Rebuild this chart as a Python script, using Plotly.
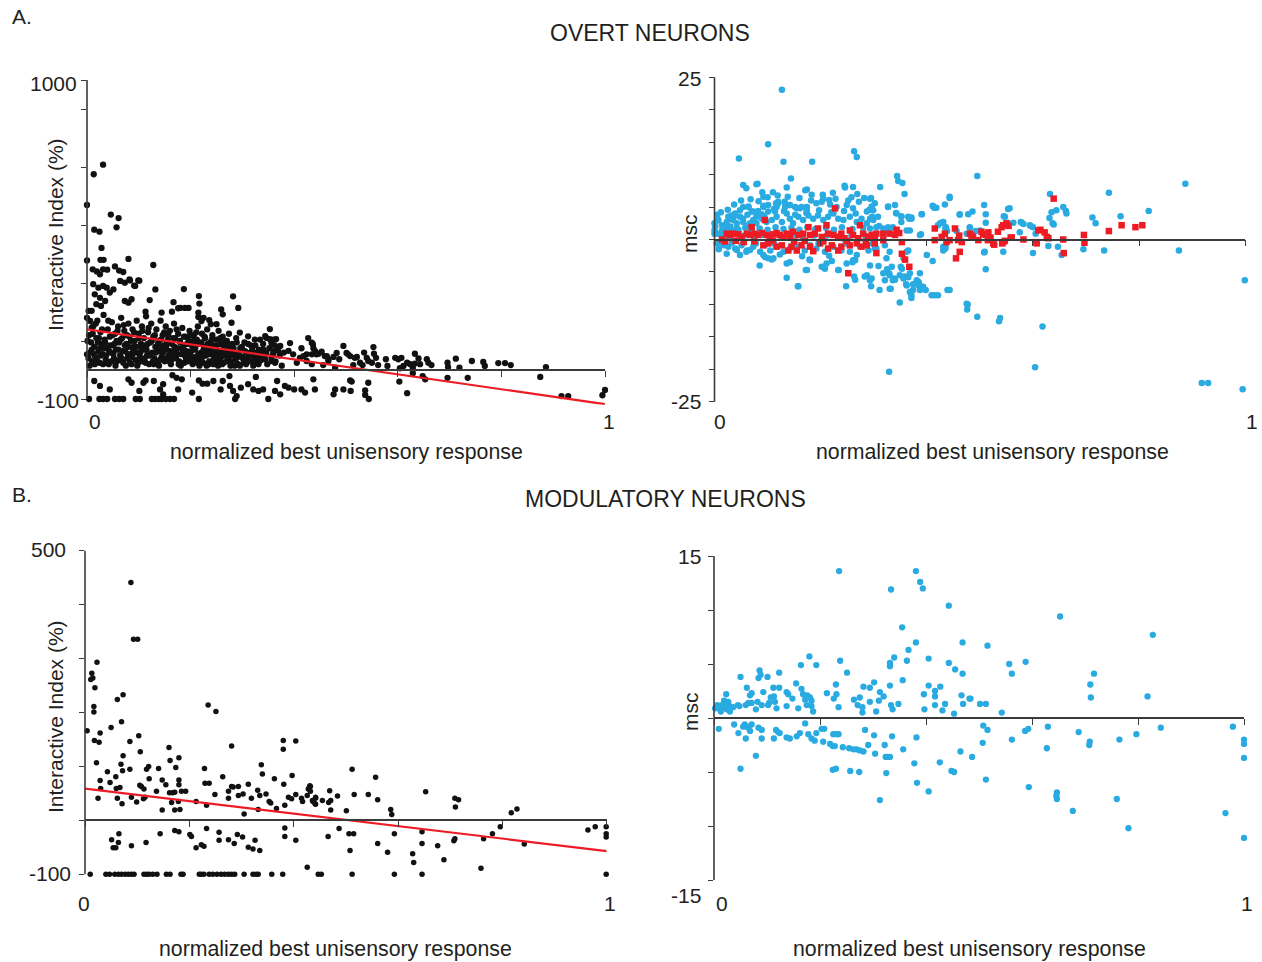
import plotly.graph_objects as go

W, H = 1262, 962
FONT = "Liberation Sans, Arial, Helvetica, sans-serif"
INK = "#231f20"
AXIS = "#3a3a3a"
DOT = "#111111"
BLUE = "#29abe2"
RED = "#ed1c24"

# ---------------- A. overt neurons: interactive index (%) ----------------
overt_index = [
    (0.013, 675), (0.031, 708), (0.000, 569), (0.046, 536), (0.061, 524), (0.057, 492),
    (0.014, 484), (0.024, 477), (0.028, 421), (0.000, 378), (0.026, 380), (0.032, 380),
    (0.080, 383), (0.011, 347), (0.019, 340), (0.039, 346), (0.054, 357), (0.062, 343),
    (0.070, 338), (0.128, 362), (0.101, 308), (0.082, 312), (0.091, 291), (0.132, 278),
    (0.187, 279), (0.216, 255), (0.217, 229), (0.282, 254), (0.292, 214), (0.259, 209),
    (0.262, 192), (0.167, 234), (0.180, 214), (0.189, 214), (0.196, 214), (0.121, 241),
    (0.113, 201), (0.236, 172), (0.239, 158), (0.215, 183), (0.221, 169), (0.353, 141),
    (0.311, 116), (0.334, 105), (0.346, 111), (0.392, 93), (0.427, 110), (0.414, 75),
    (0.360, 105), (0.362, 85), (0.000, 180), (0.000, 54), (0.003, 204),
    (0.025, 330), (0.031, 347), (0.064, 307), (0.073, 301), (0.083, 309), (0.093, 290),
    (0.099, 309), (0.012, 296), (0.022, 284), (0.031, 290), (0.038, 284), (0.044, 267),
    (0.051, 278), (0.015, 261), (0.025, 249), (0.035, 238), (0.018, 227), (0.027, 221),
    (0.009, 204), (0.006, 169), (0.009, 146), (0.073, 238), (0.080, 232), (0.086, 244),
    (0.176, 213), (0.144, 198), (0.164, 201), (0.215, 198), (0.225, 180), (0.250, 158),
    (0.279, 163), (0.295, 129),
    # dense band close to the zero line
    (0.004, 120), (0.006, 60), (0.008, 95), (0.010, 30), (0.012, 150), (0.014, 80),
    (0.016, 45), (0.018, 110), (0.020, 170), (0.022, 65), (0.024, 25), (0.026, 130),
    (0.028, 90), (0.030, 55), (0.032, 190), (0.034, 105), (0.036, 35), (0.038, 75),
    (0.040, 140), (0.042, 20), (0.044, 115), (0.046, 60), (0.048, 165), (0.050, 85),
    (0.052, 40), (0.054, 125), (0.056, 70), (0.058, 30), (0.060, 150), (0.062, 95),
    (0.064, 50), (0.066, 180), (0.068, 110), (0.070, 25), (0.072, 135), (0.074, 65),
    (0.076, 90), (0.078, 40), (0.080, 160), (0.082, 115), (0.084, 55), (0.086, 20),
    (0.088, 140), (0.090, 80), (0.092, 100), (0.094, 35), (0.096, 170), (0.098, 60),
    (0.100, 125), (0.102, 45), (0.104, 90), (0.106, 150), (0.108, 30), (0.110, 110),
    (0.112, 70), (0.114, 185), (0.116, 50), (0.118, 130), (0.120, 20), (0.122, 95),
    (0.124, 160), (0.126, 60), (0.128, 115), (0.130, 40), (0.132, 80), (0.134, 140),
    (0.136, 25), (0.138, 100), (0.140, 65), (0.142, 170), (0.144, 45), (0.146, 120),
    (0.148, 85), (0.150, 30), (0.152, 150), (0.154, 70), (0.156, 105), (0.158, 50),
    (0.160, 135), (0.162, 20), (0.164, 90), (0.166, 60), (0.168, 160), (0.170, 110),
    (0.172, 40), (0.174, 75), (0.176, 125), (0.178, 30), (0.180, 95), (0.182, 55),
    (0.184, 145), (0.186, 80), (0.188, 25), (0.190, 115), (0.192, 65), (0.194, 40),
    (0.196, 100), (0.198, 135), (0.200, 50), (0.202, 85), (0.204, 20), (0.206, 120),
    (0.208, 70), (0.210, 45), (0.212, 105), (0.214, 150), (0.216, 35), (0.218, 90),
    (0.220, 60), (0.222, 125), (0.224, 25), (0.226, 80), (0.228, 110), (0.230, 50),
    (0.232, 140), (0.234, 70), (0.236, 30), (0.238, 95), (0.240, 55), (0.242, 120),
    (0.244, 20), (0.246, 85), (0.248, 45), (0.250, 105), (0.252, 65), (0.254, 135),
    (0.256, 35), (0.258, 90), (0.260, 60), (0.262, 115), (0.264, 25), (0.266, 80),
    (0.268, 50), (0.270, 100), (0.272, 40), (0.274, 125), (0.276, 70), (0.278, 30),
    (0.280, 90), (0.284, 55), (0.288, 110), (0.292, 20), (0.296, 75), (0.300, 45),
    (0.304, 95), (0.308, 60), (0.312, 30), (0.316, 85), (0.320, 50), (0.324, 105),
    (0.328, 25), (0.332, 70), (0.336, 40), (0.340, 90), (0.344, 55), (0.348, 20),
    (0.352, 75), (0.356, 45), (0.360, 65), (0.364, 30), (0.368, 80), (0.372, 50),
    (0.376, 15), (0.380, 60),
    (0.003, 40), (0.009, 70), (0.015, 20), (0.021, 95), (0.027, 50), (0.033, 75),
    (0.039, 30), (0.045, 85), (0.051, 55), (0.057, 100), (0.063, 35), (0.069, 65),
    (0.075, 15), (0.081, 80), (0.087, 45), (0.093, 60), (0.099, 25), (0.105, 75),
    (0.111, 40), (0.117, 90), (0.123, 55), (0.129, 20), (0.135, 70), (0.141, 35),
    (0.147, 60), (0.153, 85), (0.159, 30), (0.165, 45), (0.171, 65), (0.177, 20),
    (0.183, 75), (0.189, 50), (0.195, 30), (0.201, 65), (0.207, 95), (0.213, 25),
    (0.219, 45), (0.225, 70), (0.231, 15), (0.237, 55), (0.243, 80), (0.249, 30),
    (0.255, 50), (0.261, 20), (0.267, 65), (0.273, 35), (0.279, 55), (0.285, 15),
    (0.291, 45), (0.297, 70), (0.303, 25), (0.309, 40), (0.315, 60), (0.321, 15),
    (0.327, 45), (0.333, 30),
    (0.001, 100), (0.005, 15), (0.011, 125), (0.013, 55), (0.017, 160), (0.019, 35),
    (0.023, 110), (0.025, 75), (0.029, 140), (0.031, 20), (0.035, 95), (0.037, 50),
    (0.041, 170), (0.043, 65), (0.047, 30), (0.049, 120), (0.053, 90), (0.055, 15),
    (0.059, 135), (0.061, 70), (0.065, 105), (0.067, 40), (0.071, 155), (0.073, 85),
    (0.077, 120), (0.079, 55), (0.083, 25), (0.085, 100), (0.089, 65), (0.091, 130),
    (0.095, 80), (0.097, 15), (0.101, 110), (0.103, 60), (0.107, 135), (0.109, 85),
    (0.113, 25), (0.115, 70), (0.119, 145), (0.121, 50), (0.125, 100), (0.127, 30),
    (0.131, 120), (0.133, 60), (0.137, 90), (0.139, 15), (0.143, 105), (0.145, 75),
    (0.149, 130), (0.151, 40), (0.155, 95), (0.157, 120), (0.161, 65), (0.163, 35),
    (0.167, 110), (0.169, 80), (0.173, 140), (0.175, 55), (0.179, 100), (0.181, 15),
    (0.185, 70), (0.187, 115), (0.191, 40), (0.193, 90), (0.197, 60), (0.199, 120),
    (0.203, 35), (0.205, 100), (0.209, 75), (0.211, 130), (0.215, 55), (0.217, 15),
    (0.221, 95), (0.223, 45), (0.227, 115), (0.229, 65), (0.233, 90), (0.235, 20),
    (0.239, 75), (0.241, 105), (0.245, 40), (0.247, 60), (0.251, 85), (0.253, 15),
    (0.257, 110), (0.259, 45), (0.263, 70), (0.265, 95), (0.269, 30), (0.271, 60),
    (0.275, 85), (0.277, 15), (0.281, 50), (0.283, 75), (0.287, 35), (0.289, 95),
    (0.293, 55), (0.295, 15), (0.299, 80), (0.301, 40), (0.305, 65), (0.307, 20),
    (0.311, 90), (0.313, 50), (0.317, 30), (0.319, 70), (0.323, 40), (0.325, 85),
    (0.329, 55), (0.331, 20), (0.335, 65), (0.337, 35),
    # mid range
    (0.344, 117), (0.353, 106), (0.356, 94), (0.365, 106), (0.373, 83), (0.340, 71),
    (0.346, 60), (0.359, 54), (0.369, 66), (0.328, 60), (0.344, 37), (0.356, 31),
    (0.363, 25), (0.434, 94), (0.440, 66), (0.434, 54), (0.459, 48), (0.466, 37),
    (0.389, 66), (0.398, 54), (0.411, 42), (0.443, 54), (0.424, 31), (0.405, 25),
    (0.436, 89), (0.437, 75), (0.440, 60), (0.418, 48), (0.424, 54), (0.434, 20),
    (0.447, 56), (0.453, 63), (0.456, 17), (0.463, 48), (0.466, 31), (0.476, 45),
    (0.479, 8), (0.482, 59), (0.487, 37), (0.495, 83), (0.501, 59), (0.504, 54),
    (0.508, 48), (0.514, 17), (0.517, 42), (0.521, 45), (0.527, 25), (0.532, 17),
    (0.535, 60), (0.540, 42), (0.543, 31), (0.550, 25), (0.553, 79), (0.554, 56),
    (0.558, 42), (0.562, 17), (0.577, 37), (0.580, 14), (0.595, 42), (0.601, 37),
    (0.607, 42), (0.604, 6), (0.611, 14), (0.618, 25), (0.624, 20), (0.629, 8),
    (0.633, 56), (0.633, 22), (0.640, 40), (0.643, 20), (0.656, 37), (0.659, 25),
    (0.665, 17), (0.696, 25), (0.697, 10), (0.712, 39), (0.719, 8), (0.743, 31),
    (0.765, 28), (0.768, 14), (0.794, 24), (0.807, 24), (0.818, 17), (0.886, 10),
    # below zero
    (0.014, -38), (0.025, -55), (0.044, -67), (0.080, -32), (0.086, -44), (0.101, -72),
    (0.109, -44), (0.113, -36), (0.129, -38), (0.141, -67), (0.147, -84), (0.147, -49),
    (0.165, -18), (0.173, -27), (0.183, -32), (0.176, -67), (0.203, -78), (0.216, -36),
    (0.223, -47), (0.232, -47), (0.244, -38), (0.258, -67), (0.262, -38), (0.275, -21),
    (0.276, -55), (0.282, -72), (0.289, -90), (0.297, -61), (0.311, -49), (0.326, -24),
    (0.321, -67), (0.331, -72), (0.340, -67), (0.363, -72), (0.367, -38), (0.373, -84),
    (0.382, -55), (0.389, -61), (0.400, -67), (0.414, -67), (0.421, -78), (0.437, -32),
    (0.440, -67), (0.476, -84), (0.479, -67), (0.495, -67), (0.508, -36), (0.511, -40),
    (0.509, -72), (0.537, -70), (0.537, -86), (0.543, -44), (0.544, -100), (0.603, -40),
    (0.618, -80), (0.629, -11), (0.648, -21), (0.653, -32), (0.696, -27), (0.735, -27),
    (0.875, -24), (0.916, -90), (0.929, -90), (0.995, -87), (1.000, -69),
]
overt_index_floor = [0.004, 0.024, 0.031, 0.039, 0.054, 0.062, 0.070, 0.094, 0.102,
                     0.125, 0.131, 0.138, 0.144, 0.152, 0.160, 0.168, 0.216, 0.286, 0.350]
overt_fit_x = [0.0, 1.0]
overt_fit_y = [140, -118]

# ---------------- A. overt neurons: msc ----------------
overt_msc_blue = [
    (0.127, 23.1), (0.101, 14.7), (0.046, 12.5), (0.130, 12.0), (0.184, 12.0), (0.263, 13.6),
    (0.268, 12.7), (0.344, 9.8), (0.346, 9.0), (0.354, 8.7), (0.358, 7.0), (0.054, 8.4),
    (0.060, 7.9), (0.081, 8.6), (0.144, 9.4), (0.136, 8.0), (0.090, 7.3), (0.092, 6.6),
    (0.110, 7.3), (0.171, 7.6), (0.183, 6.9), (0.223, 7.2), (0.245, 8.3), (0.246, 8.0),
    (0.261, 8.1), (0.269, 7.0), (0.258, 6.5), (0.282, 6.4), (0.295, 6.4), (0.312, 8.1),
    (0.205, 6.3), (0.216, 6.1), (0.132, 5.8), (0.116, 5.6), (0.117, 5.0), (0.327, 5.0),
    (0.340, 5.3), (0.343, 4.0), (0.352, 3.5), (0.367, 3.2), (0.371, 3.2), (0.391, 3.9),
    (0.411, 5.2), (0.414, 4.9), (0.434, 5.4), (0.443, 6.4), (0.462, 3.9), (0.478, 3.9),
    (0.297, 3.5), (0.310, 2.1), (0.318, 1.7), (0.327, 1.9), (0.389, 0.8), (0.425, 2.5),
    (0.431, 2.7), (0.435, 1.7), (0.475, 0.9),
    (0.023, -2.2), (0.042, -1.6), (0.060, -1.9), (0.067, -1.6), (0.085, -4.0), (0.095, -2.7),
    (0.101, -2.9), (0.111, -2.9), (0.136, -3.7), (0.142, -3.5), (0.136, -5.9), (0.157, -7.2),
    (0.172, -4.7), (0.179, -3.1), (0.202, -4.2), (0.211, -3.7), (0.221, -3.3), (0.234, -4.7),
    (0.248, -7.2), (0.260, -3.5), (0.265, -3.2), (0.263, -5.7), (0.265, -6.2), (0.283, -5.7),
    (0.293, -6.2), (0.295, -7.2), (0.309, -4.1), (0.318, -5.2), (0.325, -4.6), (0.329, -5.2),
    (0.332, -7.6), (0.339, -6.0), (0.349, -9.7), (0.351, -4.2), (0.358, -5.7), (0.361, -6.9),
    (0.368, -8.1), (0.371, -9.0), (0.374, -6.9), (0.381, -6.3), (0.385, -6.7), (0.387, -5.2),
    (0.398, -7.8), (0.411, -3.3), (0.415, -8.6), (0.421, -8.6), (0.439, -7.8), (0.329, -20.4),
    (0.475, -9.9), (0.476, -10.8), (0.431, -1.1), (0.435, -1.4), (0.400, -2.4),
    (0.079, 8.5), (0.054, 5.0), (0.064, 5.1), (0.073, 4.3), (0.082, 4.4), (0.092, 5.0),
    (0.101, 5.3), (0.120, 5.8), (0.133, 5.6), (0.142, 5.3), (0.152, 5.0), (0.161, 4.8),
    (0.174, 5.0), (0.192, 5.6), (0.202, 5.8), (0.218, 5.4), (0.230, 5.0), (0.249, 5.3),
    (0.261, 4.8), (0.287, 4.3), (0.299, 4.5), (0.174, 7.7),
    (0.001, 2.5), (0.007, 3.0), (0.014, 2.2), (0.023, 2.7), (0.032, 3.2), (0.039, 3.7),
    (0.048, 3.5), (0.054, 2.7), (0.064, 2.2), (0.073, 3.0), (0.079, 2.5), (0.089, 3.2),
    (0.098, 2.7), (0.108, 3.0), (0.117, 3.5), (0.127, 2.7),
    (0.136, 4.0), (0.142, 3.2), (0.148, 2.5), (0.158, 3.5), (0.167, 3.0), (0.177, 3.7),
    (0.186, 3.2), (0.195, 3.7), (0.205, 3.0), (0.214, 3.5), (0.224, 4.0), (0.233, 3.2),
    (0.243, 3.0), (0.255, 3.5), (0.268, 2.7), (0.277, 3.2), (0.287, 2.5), (0.299, 3.0),
    (0.308, 3.5),
    (0.000, 1.4), (0.004, 0.9), (0.014, 1.4), (0.023, 1.7), (0.032, 1.4), (0.042, 1.7),
    (0.020, 1.9), (0.030, 2.0), (0.045, 1.5), (0.058, 1.8), (0.070, 1.4), (0.085, 1.7),
    (0.100, 1.5), (0.115, 1.9), (0.130, 1.6), (0.145, 1.8), (0.160, 1.5), (0.175, 1.9),
    (0.190, 1.6), (0.210, 1.8), (0.225, 1.5), (0.240, 1.9), (0.260, 1.6), (0.280, 1.8),
    (0.005, 3.8), (0.012, 4.2), (0.018, 0.5), (0.025, 4.6), (0.030, 0.4), (0.037, 5.4),
    (0.044, 1.0), (0.050, 6.0), (0.056, 0.6), (0.062, 3.8), (0.068, 6.2), (0.075, 0.5),
    (0.083, 5.9), (0.088, 0.7), (0.094, 3.6), (0.100, 6.5), (0.106, 0.6), (0.112, 4.7),
    (0.119, 6.8), (0.125, 0.5), (0.131, 4.4), (0.138, 6.6), (0.146, 0.6), (0.152, 3.8),
    (0.160, 6.4), (0.166, 0.5), (0.173, 4.1), (0.182, 6.0), (0.188, 0.6), (0.197, 4.5),
    (0.204, 6.9), (0.212, 0.6), (0.220, 4.2), (0.228, 6.3), (0.236, 0.5), (0.244, 4.4),
    (0.252, 6.0), (0.258, 0.6), (0.266, 4.0), (0.272, 5.8), (0.284, 0.6), (0.292, 4.6),
    (0.302, 5.6),
    (0.004, -0.6), (0.017, -0.9), (0.026, -1.1), (0.039, -1.4), (0.051, -0.9), (0.061, -1.7),
    (0.073, -1.1), (0.086, -1.9), (0.095, -0.9), (0.105, -1.7), (0.117, -1.1), (0.130, -1.9),
    (0.142, -1.4), (0.155, -1.1), (0.170, -1.7), (0.180, -0.9), (0.192, -1.4), (0.208, -1.9),
    (0.224, -1.1), (0.239, -1.7), (0.255, -1.9), (0.274, -1.1), (0.290, -1.7), (0.305, -1.4),
    (0.008, -1.5), (0.033, -0.5), (0.048, -2.4), (0.078, -0.6), (0.112, -0.6), (0.123, -2.3),
    (0.150, -0.5), (0.165, -2.6), (0.196, -0.6), (0.216, -2.5), (0.247, -0.6), (0.268, -2.4),
    (0.298, -0.6),
    (0.092, -2.4), (0.108, -3.1), (0.158, -7.2), (0.180, -3.2), (0.208, -4.5), (0.233, -4.7),
    (0.249, -3.7), (0.261, -3.2), (0.287, -5.5), (0.296, -6.0), (0.174, -4.7),
    (0.495, 9.8), (0.486, 4.3), (0.508, 5.3), (0.511, 3.9), (0.511, 2.6), (0.545, 3.6),
    (0.553, 4.7), (0.556, 4.8), (0.552, 2.6), (0.563, 2.6), (0.577, 2.7), (0.582, 2.4),
    (0.594, 2.2), (0.600, 1.9), (0.481, 1.9), (0.492, 1.3), (0.456, 1.3), (0.575, 1.1),
    (0.605, 0.9), (0.632, 7.0), (0.635, 4.2), (0.631, 3.3), (0.644, 4.5), (0.657, 5.0),
    (0.662, 4.4), (0.663, 4.0), (0.639, 2.3), (0.637, 2.5), (0.712, 3.4), (0.718, 2.5),
    (0.743, 7.2), (0.765, 3.6), (0.818, 4.4), (0.887, 8.6),
    (0.508, -2.0), (0.509, -1.9), (0.511, -4.6), (0.544, -1.9), (0.600, -2.1), (0.629, -1.0),
    (0.647, -1.1), (0.654, -2.4), (0.695, -1.5), (0.734, -1.7), (0.875, -1.7), (0.443, -7.8),
    (0.477, -10.0), (0.495, -11.9), (0.536, -12.6), (0.538, -12.1), (0.618, -13.4),
    (0.604, -19.7), (0.999, -6.3), (0.918, -22.1), (0.930, -22.1), (0.995, -23.1),
    (0.293, 6.3), (0.296, 5.1), (0.293, 3.2), (0.327, 5.1), (0.342, 4.1), (0.352, 3.6),
    (0.365, 3.5), (0.371, 3.4), (0.352, 2.7), (0.390, 3.9), (0.412, 5.1), (0.418, 4.9),
    (0.443, 6.6), (0.293, 1.7), (0.305, 1.9), (0.327, 1.4), (0.336, 1.9), (0.362, 1.4),
    (0.368, 1.4), (0.387, 0.7), (0.421, 2.2), (0.428, 2.6), (0.436, 1.9), (0.438, 1.3),
    (0.462, 3.8), (0.481, 1.8), (0.500, 1.4), (0.547, 3.5), (0.579, 2.6), (0.596, 2.1),
    (0.321, -0.9), (0.330, -1.9), (0.302, -1.4), (0.324, -2.9), (0.334, -4.2), (0.353, -4.5),
    (0.356, -2.9), (0.362, -1.9), (0.365, -1.7), (0.293, -4.0), (0.293, -6.3), (0.321, -6.3),
    (0.330, -5.5), (0.336, -6.3), (0.349, -5.5), (0.356, -6.0), (0.362, -7.1), (0.368, -5.2),
    (0.374, -7.8), (0.384, -6.5), (0.384, -7.1), (0.387, -7.8), (0.393, -7.3), (0.409, -8.6),
    (0.431, -1.7), (0.435, -1.1), (0.311, -7.8), (0.330, -7.6), (0.340, -6.2), (0.365, -5.8),
    (0.371, -8.6),
    (0.000, 2.5), (0.000, 0.9), (0.001, 1.9), (0.007, 3.0), (0.010, 0.9), (0.014, -0.4),
    (0.007, -0.6), (0.026, 3.5), (0.032, 3.7), (0.039, 4.0), (0.048, 4.5), (0.064, 5.0),
    (0.070, 4.3), (0.054, 3.2), (0.042, 2.5), (0.035, 3.0), (0.067, 2.5), (0.079, 3.5),
    (0.089, 3.9), (0.092, 5.2), (0.101, 4.3), (0.114, 4.3), (0.120, 5.6), (0.133, 5.0),
    (0.142, 5.3), (0.155, 4.8), (0.164, 5.0), (0.174, 4.5),
]
overt_msc_red = [
    (0.014, 0.0), (0.023, 0.9), (0.029, 0.7), (0.035, 0.9), (0.045, 0.8), (0.051, 0.4),
    (0.061, 0.9), (0.067, 0.7), (0.070, 1.9), (0.076, 0.9), (0.082, 0.7), (0.089, 1.0),
    (0.095, 3.0), (0.098, 0.7), (0.104, 0.4), (0.111, 0.8), (0.117, 1.0), (0.123, 0.7),
    (0.130, 0.4), (0.136, 0.9), (0.142, 0.5), (0.148, 1.2), (0.158, 0.7), (0.167, 0.9),
    (0.177, 1.9), (0.180, 0.7), (0.189, 0.9), (0.195, 1.7), (0.202, 0.4), (0.211, 2.2),
    (0.214, 0.9), (0.224, 0.7), (0.227, 4.8), (0.233, 0.4), (0.239, 0.9), (0.245, 0.2),
    (0.255, 1.4), (0.261, 0.7), (0.271, 0.2), (0.274, 2.2), (0.280, 0.9), (0.290, 0.4),
    (0.299, 0.7), (0.305, 0.9),
    (0.092, -0.9), (0.101, -0.6), (0.117, -1.1), (0.127, -0.9), (0.139, -1.7), (0.145, -1.1),
    (0.155, -1.7), (0.164, -0.9), (0.180, -1.1), (0.186, -1.8), (0.199, -0.6), (0.214, -1.4),
    (0.221, -0.9), (0.233, -1.7), (0.239, -1.1), (0.252, -5.2), (0.255, -0.9), (0.268, -0.6),
    (0.277, -1.1), (0.287, -0.9), (0.302, -0.6),
    (0.020, -0.3), (0.040, -0.2), (0.055, -0.4), (0.075, -0.3), (0.110, -0.2), (0.150, -0.3),
    (0.170, -0.2), (0.205, -0.3), (0.250, -0.2), (0.285, -0.3),
    (0.296, 0.7), (0.302, 0.2), (0.305, -2.1), (0.318, 0.9), (0.318, -0.1), (0.330, 0.9),
    (0.340, 0.7), (0.343, 1.5), (0.348, 1.0), (0.353, -0.4), (0.353, -2.2), (0.359, -3.1),
    (0.367, -4.2), (0.415, 1.7), (0.415, -0.1), (0.428, 0.4), (0.434, 0.9), (0.437, -0.4),
    (0.443, -0.1), (0.453, 1.7), (0.459, -0.1), (0.462, -1.9), (0.455, -2.9), (0.481, 0.9),
    (0.487, 0.4), (0.497, -0.1), (0.503, 1.2), (0.512, 0.7), (0.515, -0.1), (0.525, -0.6),
    (0.534, 1.2), (0.541, 1.9), (0.544, 2.2), (0.550, 2.5), (0.544, -0.4), (0.560, 0.3),
    (0.582, 0.0), (0.610, 1.4), (0.607, -0.6),
    (0.461, 0.6), (0.466, -0.4), (0.484, 0.6), (0.506, 0.8), (0.516, 1.1), (0.520, 0.3),
    (0.527, -0.8), (0.547, -0.2), (0.554, 2.1), (0.558, 0.3), (0.542, -0.6), (0.605, -0.4),
    (0.614, 1.5), (0.622, 1.1), (0.626, 0.4), (0.629, 0.2), (0.639, 6.3), (0.657, 0.0),
    (0.658, -2.1), (0.696, 0.7), (0.697, -0.5), (0.743, 1.3), (0.767, 2.2), (0.793, 1.9),
    (0.806, 2.2),
]

# ---------------- B. modulatory neurons: interactive index (%) ----------------
mod_index = [
    (0.088, 441), (0.093, 336), (0.101, 336), (0.023, 293), (0.013, 273), (0.015, 264),
    (0.011, 261), (0.019, 246), (0.017, 211), (0.017, 201), (0.073, 233), (0.062, 224),
    (0.070, 183), (0.050, 172), (0.004, 166), (0.029, 162), (0.027, 145), (0.018, 148),
    (0.022, 107), (0.086, 146), (0.103, 157), (0.106, 127), (0.073, 120), (0.069, 104),
    (0.072, 92), (0.086, 95), (0.059, 81), (0.043, 90), (0.048, 70), (0.029, 74),
    (0.030, 59), (0.060, 59), (0.067, 61), (0.025, 41), (0.062, 41), (0.071, 31),
    (0.089, 43), (0.099, 34), (0.105, 65), (0.108, 63), (0.113, 58), (0.112, 40),
    (0.115, 43), (0.118, 95), (0.122, 100), (0.123, 77), (0.141, 96), (0.137, 54),
    (0.148, 75), (0.155, 66), (0.148, 19), (0.161, 135), (0.163, 111), (0.174, 98),
    (0.180, 116), (0.162, 51), (0.168, 51), (0.172, 52), (0.166, 33), (0.172, 19),
    (0.182, 20), (0.179, 35), (0.180, 75), (0.180, 66), (0.185, 54), (0.193, 54),
    (0.213, 35), (0.229, 96), (0.230, 69), (0.238, 69), (0.233, 28), (0.236, 214),
    (0.251, 202), (0.249, 48), (0.264, 81), (0.275, 54), (0.281, 63), (0.284, 62),
    (0.281, 138), (0.275, 41), (0.294, 63), (0.294, 46), (0.303, 49), (0.305, 12),
    (0.313, 67), (0.319, 41), (0.331, 56), (0.332, 20), (0.335, 46), (0.338, 103),
    (0.340, 86), (0.347, 49), (0.353, 35), (0.356, 32), (0.367, 22), (0.363, 77),
    (0.380, 148), (0.380, 132), (0.381, 67), (0.383, 28), (0.390, 43), (0.396, 40),
    (0.397, 83), (0.404, 147), (0.404, 48), (0.415, 41), (0.417, 35), (0.430, 61),
    (0.432, 63), (0.426, 46), (0.436, 37), (0.442, 41), (0.441, 31),
    (0.512, 95), (0.557, 80), (0.431, 64), (0.428, 58), (0.432, 54), (0.442, 43),
    (0.437, 35), (0.442, 30), (0.455, 37), (0.469, 55), (0.467, 33), (0.471, 37),
    (0.471, 19), (0.484, 45), (0.501, 18), (0.516, 48), (0.543, 48), (0.561, 38),
    (0.586, 20), (0.588, 11), (0.653, 53), (0.709, 41), (0.716, 38), (0.710, 25),
    (0.817, 14), (0.828, 21),
    (0.051, -36), (0.054, -51), (0.059, -51), (0.064, -41), (0.065, -25), (0.089, -47),
    (0.117, -41), (0.144, -25), (0.172, -19), (0.180, -21), (0.201, -26), (0.204, -30),
    (0.213, -51), (0.223, -45), (0.228, -48), (0.233, -15), (0.257, -22), (0.257, -37),
    (0.275, -36), (0.286, -43), (0.292, -26), (0.302, -31), (0.313, -50), (0.322, -53),
    (0.326, -37), (0.335, -56), (0.383, -14), (0.383, -30), (0.404, -37), (0.426, -87),
    (0.466, -30), (0.487, -15), (0.506, -25), (0.515, -25), (0.508, -56), (0.561, -43),
    (0.580, -59), (0.593, -25), (0.628, -62), (0.630, -78), (0.646, -21), (0.646, -43),
    (0.676, -47), (0.688, -73), (0.707, -38), (0.709, -34), (0.759, -89), (0.764, -34),
    (0.781, -25), (0.796, -12), (0.842, -44), (0.964, -18), (0.978, -12), (0.999, -12),
    (0.999, -25), (0.999, -31),
]
mod_index_floor = [0.010, 0.040, 0.047, 0.057, 0.064, 0.070, 0.077, 0.083, 0.089, 0.094,
                   0.113, 0.118, 0.123, 0.130, 0.138, 0.156, 0.163, 0.184, 0.188, 0.219,
                   0.223, 0.228, 0.238, 0.245, 0.253, 0.261, 0.268, 0.275, 0.281, 0.287,
                   0.305, 0.322, 0.328, 0.332, 0.358, 0.379, 0.447, 0.453, 0.512, 0.593,
                   0.646, 0.999]
mod_fit_x = [0.0, 1.0]
mod_fit_y = [59, -57]

# ---------------- B. modulatory neurons: msc ----------------
mod_msc = [
    (0.236, 13.6), (0.381, 13.6), (0.389, 12.6), (0.394, 12.0), (0.334, 11.9), (0.443, 10.4),
    (0.355, 8.4), (0.381, 7.0), (0.469, 7.0), (0.367, 6.3), (0.340, 5.6), (0.332, 5.1),
    (0.332, 4.8), (0.364, 5.3), (0.405, 5.5), (0.443, 5.1), (0.455, 4.5), (0.469, 4.1),
    (0.238, 5.3), (0.251, 4.2), (0.180, 5.7), (0.193, 4.9), (0.164, 4.9), (0.356, 3.5),
    (0.332, 3.0), (0.230, 3.1), (0.231, 2.2), (0.282, 2.9), (0.294, 2.8), (0.302, 3.3),
    (0.405, 3.0), (0.417, 2.5), (0.427, 2.9), (0.396, 2.2), (0.467, 2.1), (0.482, 1.8),
    (0.313, 2.4), (0.320, 2.0), (0.311, 1.6), (0.213, 2.3), (0.226, 1.8), (0.235, 1.0),
    (0.264, 1.7), (0.271, 1.2), (0.275, 1.9), (0.280, 1.0), (0.280, 0.5), (0.294, 1.5),
    (0.306, 0.6), (0.334, 1.2), (0.337, 0.8), (0.348, 1.3), (0.397, 0.8), (0.417, 1.2),
    (0.417, 2.0), (0.431, 0.7), (0.436, 1.3), (0.453, 0.4), (0.470, 1.3),
    (0.002, 0.9), (0.008, 0.9), (0.011, 1.1), (0.015, 1.2), (0.018, 1.0), (0.021, 1.4),
    (0.023, 2.2), (0.024, 0.8), (0.027, 1.5), (0.029, 1.1), (0.030, 0.6), (0.036, 1.0),
    (0.045, 1.2), (0.048, 1.1), (0.050, 3.8), (0.062, 2.8), (0.060, 1.2), (0.065, 1.4),
    (0.068, 2.1), (0.071, 2.3), (0.071, 1.4), (0.079, 0.8), (0.082, 1.5), (0.084, 3.7),
    (0.086, 4.4), (0.088, 4.0), (0.090, 1.2), (0.093, 2.4), (0.101, 3.8), (0.102, 1.2),
    (0.104, 1.4), (0.107, 1.9), (0.112, 2.8), (0.113, 2.0), (0.115, 1.5), (0.118, 0.9),
    (0.123, 4.2), (0.123, 2.8), (0.137, 2.4), (0.140, 2.2), (0.137, 1.1), (0.148, 1.8),
    (0.155, 3.2), (0.159, 0.9), (0.165, 2.7), (0.168, 2.2), (0.172, 1.7), (0.175, 1.2),
    (0.176, 2.1), (0.181, 1.9), (0.184, 1.6), (0.184, 1.1), (0.187, 0.6), (0.006, 1.2),
    (0.013, 0.6), (0.019, 1.6),
    (0.009, -1.0), (0.038, -0.6), (0.046, -1.4), (0.050, -4.7), (0.055, -0.8), (0.058, -0.6),
    (0.062, -0.8), (0.065, -0.9), (0.068, -1.2), (0.060, -1.9), (0.071, -0.6), (0.079, -3.5),
    (0.084, -0.9), (0.090, -1.1), (0.090, -1.9), (0.113, -1.9), (0.117, -1.1), (0.121, -1.3),
    (0.124, -1.4), (0.137, -1.8), (0.143, -1.9), (0.156, -1.7), (0.162, -1.4), (0.172, -0.5),
    (0.178, -1.5), (0.184, -1.9), (0.190, -2.1), (0.193, -1.4), (0.203, -1.0), (0.208, -1.0),
    (0.206, -2.2), (0.219, -2.4), (0.225, -1.5), (0.231, -1.5), (0.224, -2.6), (0.228, -2.6),
    (0.235, -1.5), (0.243, -2.7), (0.255, -2.8), (0.263, -2.9), (0.269, -2.9), (0.275, -3.0),
    (0.282, -3.1), (0.224, -4.8), (0.230, -4.7), (0.257, -4.9), (0.274, -5.0), (0.285, -1.1),
    (0.291, -2.5), (0.302, -1.6), (0.304, -3.3), (0.313, -7.6), (0.322, -2.5), (0.324, -3.6),
    (0.327, -3.6), (0.332, -3.6), (0.325, -5.1), (0.336, -1.7), (0.357, -2.9), (0.378, -4.2),
    (0.382, -1.8), (0.383, -6.0), (0.405, -6.8), (0.426, -4.1), (0.448, -4.9), (0.453, -5.0),
    (0.465, -3.1),
    (0.653, 9.4), (0.828, 7.7), (0.516, 6.7), (0.557, 5.0), (0.562, 4.1), (0.588, 5.2),
    (0.717, 4.1), (0.710, 3.1), (0.711, 1.9), (0.818, 2.0), (0.484, 1.8), (0.502, 1.3),
    (0.513, 1.3), (0.543, 0.5),
    (0.508, -0.7), (0.516, -1.1), (0.562, -2.0), (0.587, -1.2), (0.593, -1.0), (0.630, -0.8),
    (0.688, -1.3), (0.628, -2.8), (0.709, -2.2), (0.708, -2.5), (0.765, -2.0), (0.797, -1.5),
    (0.843, -0.9), (0.979, -0.8), (1.000, -2.0), (1.000, -2.4), (1.000, -3.7), (0.487, -3.6),
    (0.507, -2.3), (0.513, -5.7), (0.594, -6.4), (0.647, -6.9), (0.646, -7.2), (0.647, -7.5),
    (0.677, -8.6), (0.760, -7.5), (0.782, -10.2), (0.965, -8.8), (1.000, -11.1),
]

# ---------------- panel geometry (pixel boxes) ----------------
# "axis" is the visible extent of the y-axis line; the plotting range of the
# first panel reaches a little below -100 so the fitted line is not cut off.
panels = [
    dict(box=(87, 80, 605, 404.8), yrange=(-120, 1000), axis=(-100, 1000),
         ytick=[-100, 100, 300, 500, 700, 900, 1000]),
    dict(box=(714.5, 77.3, 1245.3, 401.7), yrange=(-25, 25), axis=(-25, 25),
         ytick=[-25, -20, -15, -10, -5, 0, 5, 10, 15, 20, 25]),
    dict(box=(85, 550.7, 606.7, 874.3), yrange=(-100, 500), axis=(-100, 500),
         ytick=[-100, 0, 100, 200, 300, 400, 500]),
    dict(box=(714, 556, 1244, 880), yrange=(-15, 15), axis=(-15, 15),
         ytick=[-15, -10, -5, 0, 5, 10, 15]),
]

fig = go.Figure()
layout_axes = {}
shapes = []
for i, p in enumerate(panels, start=1):
    x0, top, x1, bottom = p["box"]
    xd = [x0 / W, x1 / W]
    yd = [1 - bottom / H, 1 - top / H]
    lo, hi = p["yrange"]

    def to_paper(v, yd=yd, lo=lo, hi=hi):
        return yd[0] + (v - lo) / (hi - lo) * (yd[1] - yd[0])

    sfx = "" if i == 1 else str(i)
    layout_axes["xaxis" + sfx] = dict(
        domain=xd, range=[0, 1], anchor="free", position=to_paper(0),
        showline=True, linecolor=AXIS, linewidth=1.8,
        ticks="outside", ticklen=6, tickwidth=1.4, tickcolor=AXIS,
        tickvals=[0, 0.2, 0.4, 0.6, 0.8, 1.0], showticklabels=False,
        showgrid=False, zeroline=False, fixedrange=True,
    )
    layout_axes["yaxis" + sfx] = dict(
        domain=yd, range=[lo, hi], anchor="x" + sfx,
        showline=False,
        ticks="outside", ticklen=5, tickwidth=1.3, tickcolor=AXIS,
        tickvals=p["ytick"], showticklabels=False,
        showgrid=False, zeroline=False, fixedrange=True,
    )
    a0, a1 = p["axis"]
    shapes.append(dict(
        type="line", xref="paper", yref="paper",
        x0=xd[0], x1=xd[0], y0=to_paper(a0), y1=to_paper(a1),
        line=dict(color=AXIS, width=1.6), layer="above",
    ))


def scatter(points, ax, color, size, symbol="circle"):
    xs = [p[0] for p in points]
    ys = [p[1] for p in points]
    fig.add_trace(go.Scatter(
        x=xs, y=ys, mode="markers", xaxis="x" + ax, yaxis="y" + ax,
        marker=dict(color=color, size=size, symbol=symbol, line=dict(width=0)),
        cliponaxis=False, showlegend=False, hoverinfo="skip",
    ))


def fit_line(xs, ys, ax):
    fig.add_trace(go.Scatter(
        x=xs, y=ys, mode="lines", xaxis="x" + ax, yaxis="y" + ax,
        line=dict(color=RED, width=2.2), cliponaxis=False,
        showlegend=False, hoverinfo="skip",
    ))


# A, left: interactive index of overt neurons
scatter(overt_index + [(x, -100) for x in overt_index_floor], "", DOT, 6.3)
fit_line(overt_fit_x, overt_fit_y, "")
# A, right: msc of overt neurons
scatter(overt_msc_blue, "2", BLUE, 6.5)
scatter(overt_msc_red, "2", RED, 6.5, "square")
# B, left: interactive index of modulatory neurons
scatter(mod_index + [(x, -100) for x in mod_index_floor], "3", DOT, 5.5)
fit_line(mod_fit_x, mod_fit_y, "3")
# B, right: msc of modulatory neurons
scatter(mod_msc, "4", BLUE, 6.3)

# ---------------- text ----------------
annotations = []


def text(s, px, py, size=21, anchor="center", angle=0):
    annotations.append(dict(
        text=s, x=px / W, y=1 - py / H, xref="paper", yref="paper",
        xanchor=anchor, yanchor="middle", showarrow=False, textangle=angle,
        font=dict(family=FONT, size=size, color=INK),
    ))


text("A.", 10, 17, 21, "left")
text("B.", 10, 495, 21, "left")
text("OVERT NEURONS", 650, 33, 23)
text("MODULATORY NEURONS", 665, 499, 23)

# y end labels
text("1000", 79, 83, anchor="right")
text("-100", 81, 400, anchor="right")
text("25", 703, 78, anchor="right")
text("-25", 703, 401, anchor="right")
text("500", 68, 549, anchor="right")
text("-100", 73, 873, anchor="right")
text("15", 703, 556, anchor="right")
text("-15", 703, 895, anchor="right")

# x end labels
text("0", 95, 421)
text("1", 609, 421)
text("0", 720, 421)
text("1", 1252, 421)
text("0", 84, 903)
text("1", 610, 903)
text("0", 722, 903)
text("1", 1247, 903)

# axis titles
text("normalized best unisensory response", 346, 452, 21.3)
text("normalized best unisensory response", 993, 452, 21.3)
text("normalized best unisensory response", 335, 949, 21.3)
text("normalized best unisensory response", 969, 949, 21.3)
text("Interactive Index (%)", 55, 235, angle=-90)
text("Interactive Index (%)", 55, 717, angle=-90)
text("msc", 690, 234, angle=-90)
text("msc", 690, 712, angle=-90)

fig.update_layout(
    width=W, height=H, margin=dict(l=0, r=0, t=0, b=0),
    paper_bgcolor="white", plot_bgcolor="white",
    font=dict(family=FONT, color=INK), showlegend=False,
    annotations=annotations, shapes=shapes, **layout_axes,
)

fig.write_html("out.html", config={"displayModeBar": False})
